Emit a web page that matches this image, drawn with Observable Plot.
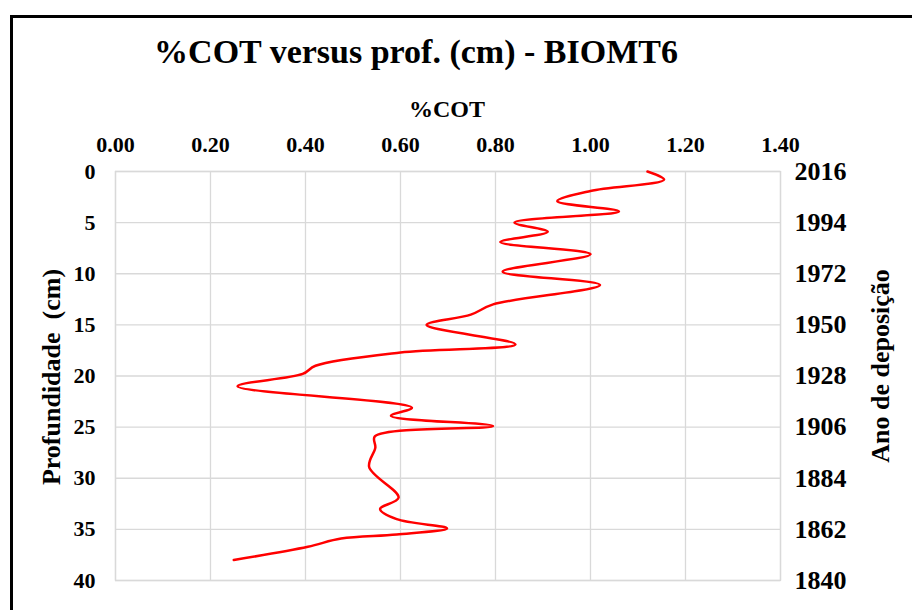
<!DOCTYPE html>
<html><head><meta charset="utf-8">
<script src="https://cdn.jsdelivr.net/npm/d3@7"></script>
<script src="https://cdn.jsdelivr.net/npm/@observablehq/plot@0.6"></script>
<style>
body{margin:0;background:#fff;}
#wrap{position:relative;width:912px;height:610px;overflow:hidden;}
#frame{position:absolute;left:10px;top:15px;width:1000px;height:1000px;border-top:3px solid #000;border-left:3px solid #000;pointer-events:none;}
</style>
</head><body>
<div id="wrap"><div id="frame"></div></div>
<script>
// %COT values (x) and depths in cm (y) read from the profile
const depth = [0, 0.8, 1.9, 2.9, 3.9, 5.0, 5.9, 6.9, 8.1, 9.8, 11.1, 13.0, 14.0, 15.0, 16.9, 17.7, 19.0, 19.8, 21.0, 23.1, 23.9, 24.9, 25.9, 27.0, 28.9, 31.9, 33.0, 34.0, 34.9, 35.5, 35.9, 36.7, 38.0];
const cot   = [1.12, 1.155, 1.0, 0.93, 1.06, 0.84, 0.91, 0.81, 1.0, 0.815, 1.02, 0.795, 0.748, 0.655, 0.842, 0.60, 0.421, 0.394, 0.257, 0.624, 0.58, 0.795, 0.546, 0.547, 0.534, 0.596, 0.557, 0.592, 0.698, 0.592, 0.475, 0.405, 0.249];
const xTicks = [0, 0.2, 0.4, 0.6, 0.8, 1.0, 1.2, 1.4];
const depthTicks = [0, 5, 10, 15, 20, 25, 30, 35, 40];
const yearLabels = ["2016", "1994", "1972", "1950", "1928", "1906", "1884", "1862", "1840"];

const data = depth.map((d, i) => ({depth: d, cot: cot[i]}));
const yearOf = new Map(depthTicks.map((d, i) => [d, yearLabels[i]]));
const grid = "#d9d9d9";
const FONT = "'Liberation Serif','Times New Roman',serif";

const chart = Plot.plot({
  width: 912, height: 610,
  marginLeft: 115, marginRight: 132, marginTop: 171, marginBottom: 30,
  style: {fontFamily: FONT, fontWeight: "bold", background: "transparent", color: "#000"},
  x: {domain: [0, 1.4]},
  y: {domain: [0, 40], reverse: true},
  marks: [
    Plot.gridX(xTicks, {stroke: grid, strokeOpacity: 1, strokeWidth: 1.3}),
    Plot.gridY(depthTicks, {stroke: grid, strokeOpacity: 1, strokeWidth: 1.3}),
    Plot.frame({stroke: grid, strokeWidth: 1.3}),
    Plot.axisX(xTicks, {anchor: "top", tickSize: 0, tickPadding: 20, fontSize: 22, tickFormat: d3.format(".2f"), label: null}),
    Plot.axisY(depthTicks, {anchor: "left", tickSize: 0, tickPadding: 20, fontSize: 22, label: null}),
    Plot.axisY(depthTicks, {anchor: "right", tickSize: 0, tickPadding: 14, fontSize: 26, tickFormat: d => yearOf.get(d), label: null}),
    Plot.line(data, {x: "cot", y: "depth", stroke: "#ff0000", strokeWidth: 2.5, curve: "catmull-rom"})
  ]
});

const svg = d3.select(chart);
const addText = (txt, x, y, size, rotate) => {
  const t = svg.append("text")
    .attr("x", x).attr("y", y)
    .attr("text-anchor", "middle")
    .attr("font-family", FONT).attr("font-weight", "bold")
    .attr("font-size", size).attr("fill", "#000")
    .attr("xml:space", "preserve")
    .text(txt);
  if (rotate) t.attr("transform", `rotate(-90, ${x}, ${y})`);
  return t;
};
addText("%COT versus prof. (cm) - BIOMT6", 416, 63, 34);
addText("%COT", 447, 117, 24);
addText("Profundidade  (cm)", 60, 377, 26, true);
addText("Ano de deposição", 889, 366, 26, true);

document.getElementById("wrap").insertBefore(chart, document.getElementById("frame"));
chart.style.position = "absolute";
chart.style.left = "0";
chart.style.top = "0";
</script>
</body></html>
